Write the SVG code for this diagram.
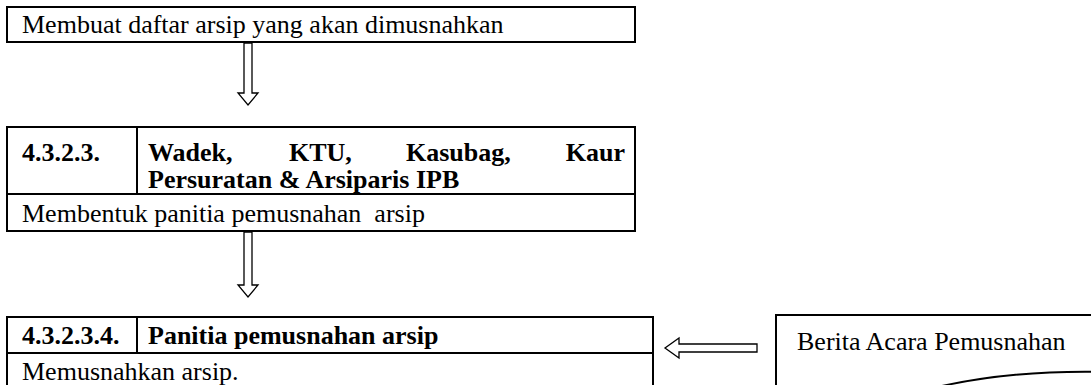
<svg xmlns="http://www.w3.org/2000/svg" width="1091" height="385" viewBox="0 0 1091 385">
<style>
.box{fill:#fff;stroke:#000;stroke-width:2}
.ln{stroke:#000;stroke-width:2;fill:none}
.t{font-family:"Liberation Serif","Times New Roman",serif;font-size:26px;fill:#000}
.b{font-weight:bold}
.arr{fill:#fff;stroke:#000;stroke-width:1.3;stroke-linejoin:miter}
</style>
<rect width="1091" height="385" fill="#fff"/>
<g id="node1">
<rect class="box" x="7" y="7" width="628" height="35"/>
<text class="t" x="22" y="33">Membuat daftar arsip yang akan dimusnahkan</text>
</g>
<g id="node2">
<rect class="box" x="7" y="127" width="628" height="104"/>
<line class="ln" x1="7" y1="194" x2="635" y2="194"/>
<line class="ln" x1="137" y1="127" x2="137" y2="194"/>
<text class="t b" x="22" y="161">4.3.2.3.</text>
<text class="t b" x="148" y="161">Wadek,</text>
<text class="t b" x="289" y="161">KTU,</text>
<text class="t b" x="406" y="161">Kasubag,</text>
<text class="t b" x="625" y="161" text-anchor="end">Kaur</text>
<text class="t b" x="148" y="188">Persuratan &amp; Arsiparis IPB</text>
<text class="t" x="22" y="222" xml:space="preserve">Membentuk panitia pemusnahan  arsip</text>
</g>
<g id="node3">
<rect class="box" x="7" y="317" width="646" height="90"/>
<line class="ln" x1="7" y1="353" x2="653" y2="353"/>
<line class="ln" x1="137" y1="317" x2="137" y2="353"/>
<text class="t b" x="22" y="344">4.3.2.3.4.</text>
<text class="t b" x="148" y="344">Panitia pemusnahan arsip</text>
<text class="t" x="22" y="380">Memusnahkan arsip.</text>
</g>
<g id="node4">
<path class="ln" d="M776,400 V315 H1110 V372 C1040,370 980,376 925,390"/>
<text class="t" x="797" y="350">Berita Acara Pemusnahan</text>
</g>
<g id="connectors">
<path class="arr" d="M244,43 H252 V93 H258 L248,105 L238,93 H244 Z"/>
<path class="arr" d="M244,232 H252 V285 H258 L248,297 L238,285 H244 Z"/>
<path class="arr" d="M757,344 V352 H679 V358 L665,348 L679,338 V344 Z"/>
</g>
</svg>
